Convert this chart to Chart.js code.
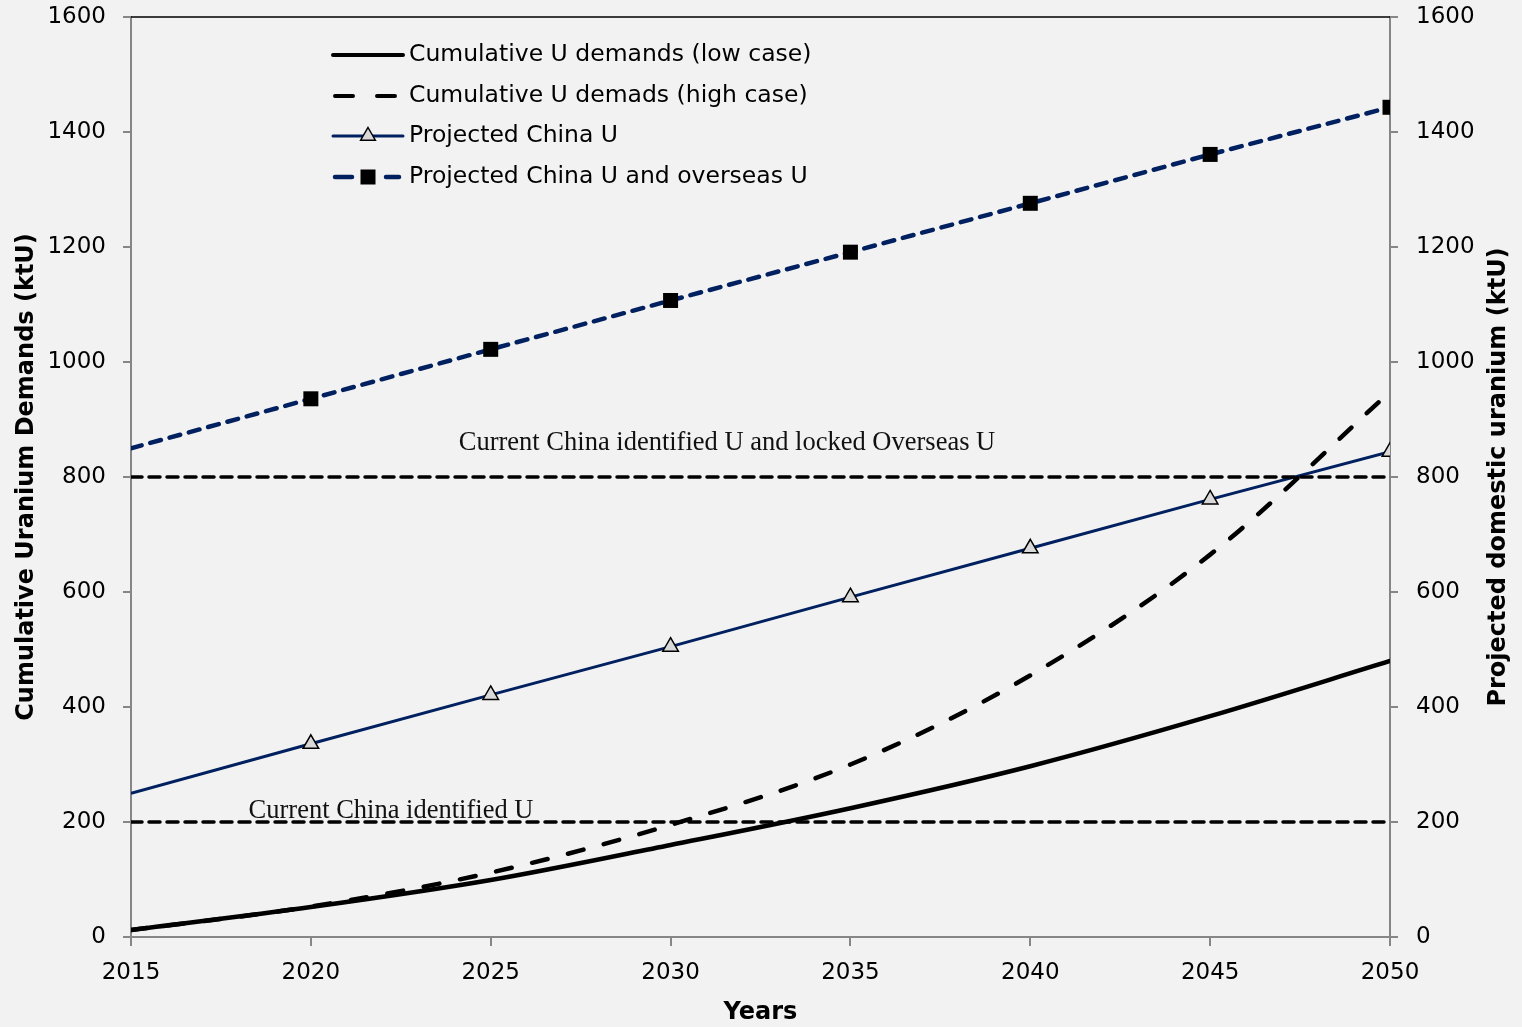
<!DOCTYPE html>
<html>
<head>
<meta charset="utf-8">
<script src="https://cdn.jsdelivr.net/npm/chart.js@4"></script>
<style>
  html, body { margin: 0; padding: 0; background: #f2f2f2; }
  #wrap { width: 1522px; height: 1027px; }
</style>
</head>
<body>
<div id="wrap"><canvas id="c" width="1522" height="1027"></canvas></div>
<script>
const years = [2015, 2020, 2025, 2030, 2035, 2040, 2045, 2050];
const lowCase = [12, 52, 99, 160, 224, 297, 384, 480];
const highCase = [12, 53, 112, 195, 300, 455, 665, 948];
const chinaU = [250, 336, 421, 505, 591, 676, 761, 844];
const chinaOverseasU = [850, 936, 1022, 1107, 1191, 1276, 1361, 1443];
const refYears = [2015, 2050];
const identifiedU = [200, 200];
const lockedU = [800, 800];
const legendLabels = [
  'Cumulative U demands (low case)',
  'Cumulative U demads (high case)',
  'Projected China U',
  'Projected China U and overseas U'
];
const annotationLabels = ['Current China identified U and locked Overseas U', 'Current China identified U'];
const yTicks = [0, 200, 400, 600, 800, 1000, 1200, 1400, 1600];
const xTicks = [2015, 2020, 2025, 2030, 2035, 2040, 2045, 2050];

const NAVY = '#002060';
const AXIS_GREY = '#868686';
const FONT = '"DejaVu Sans", Verdana, sans-serif';
const SERIF = '"Liberation Serif", "Times New Roman", serif';

const pts = (xs, ys) => xs.map((x, i) => ({ x, y: ys[i] }));
const markerRadius = (r) => years.map((y, i) => i === 0 ? 0 : r);

const overlay = {
  id: 'overlay',
  afterDatasetsDraw(chart) {
    const ctx = chart.ctx;
    const ys = chart.scales.y;
    const area = chart.chartArea;
    ctx.save();
    // top border
    ctx.strokeStyle = '#000';
    ctx.lineWidth = 1.5;
    ctx.beginPath();
    ctx.moveTo(area.left, area.top);
    ctx.lineTo(area.right, area.top);
    ctx.stroke();

    // annotations
    ctx.fillStyle = '#111';
    ctx.font = '26.5px ' + SERIF;
    ctx.textAlign = 'center';
    ctx.textBaseline = 'alphabetic';
    ctx.fillText(annotationLabels[0], 727, ys.getPixelForValue(800) - 27);
    ctx.fillText(annotationLabels[1], 391, ys.getPixelForValue(200) - 4);

    // legend
    const lx0 = 333, lx1 = 403, tx = 409;
    const rows = [55, 96, 136, 177];
    ctx.lineCap = 'round';
    ctx.strokeStyle = '#000'; ctx.lineWidth = 4; ctx.setLineDash([]);
    ctx.beginPath(); ctx.moveTo(lx0, rows[0]); ctx.lineTo(lx1, rows[0]); ctx.stroke();
    ctx.setLineDash([18, 24]);
    ctx.beginPath(); ctx.moveTo(lx0 + 2, rows[1]); ctx.lineTo(lx1, rows[1]); ctx.stroke();
    ctx.setLineDash([]); ctx.strokeStyle = NAVY; ctx.lineWidth = 3;
    ctx.beginPath(); ctx.moveTo(lx0, rows[2]); ctx.lineTo(lx1, rows[2]); ctx.stroke();
    ctx.lineCap = 'butt';
    ctx.fillStyle = '#d9d9d9'; ctx.strokeStyle = '#000'; ctx.lineWidth = 1.5;
    const tr = 8.5, cx = 368;
    ctx.beginPath();
    ctx.moveTo(cx, rows[2] - tr);
    ctx.lineTo(cx + tr * 0.866, rows[2] + tr * 0.5);
    ctx.lineTo(cx - tr * 0.866, rows[2] + tr * 0.5);
    ctx.closePath(); ctx.fill(); ctx.stroke();
    ctx.lineCap = 'round';
    ctx.strokeStyle = NAVY; ctx.lineWidth = 4.5;
    ctx.beginPath(); ctx.moveTo(lx0 + 2, rows[3]); ctx.lineTo(352, rows[3]); ctx.stroke();
    ctx.beginPath(); ctx.moveTo(386, rows[3]); ctx.lineTo(lx1 - 4, rows[3]); ctx.stroke();
    ctx.fillStyle = '#000';
    ctx.fillRect(cx - 7.5, rows[3] - 7.5, 15, 15);

    ctx.fillStyle = '#000';
    ctx.font = '23.5px ' + FONT;
    ctx.textAlign = 'left';
    ctx.textBaseline = 'middle';
    legendLabels.forEach((t, i) => ctx.fillText(t, tx, rows[i]));

    // right axis title (reads bottom to top)
    ctx.save();
    ctx.translate(1499, 477);
    ctx.rotate(-Math.PI / 2);
    ctx.font = 'bold 24px ' + FONT;
    ctx.textAlign = 'center';
    ctx.textBaseline = 'middle';
    ctx.fillText('Projected domestic uranium (ktU)', 0, 0);
    ctx.restore();
    ctx.restore();
  }
};

const noPad = (s) => { s.paddingTop = 0; s.paddingBottom = 0; };

new Chart(document.getElementById('c'), {
  type: 'line',
  data: {
    datasets: [
      {
        label: 'Current China identified U and locked Overseas U',
        data: pts(refYears, lockedU),
        borderColor: '#000', borderWidth: 3.5, borderDash: [11, 7], borderCapStyle: 'round',
        pointRadius: 0, fill: false
      },
      {
        label: 'Current China identified U',
        data: pts(refYears, identifiedU),
        borderColor: '#000', borderWidth: 3.5, borderDash: [11, 7], borderCapStyle: 'round',
        pointRadius: 0, fill: false
      },
      {
        label: legendLabels[0],
        data: pts(years, lowCase),
        borderColor: '#000', borderWidth: 4.5, cubicInterpolationMode: 'monotone',
        borderCapStyle: 'round', pointRadius: 0, fill: false
      },
      {
        label: legendLabels[1],
        data: pts(years, highCase),
        borderColor: '#000', borderWidth: 4.5, borderDash: [16, 21], borderCapStyle: 'round',
        cubicInterpolationMode: 'monotone', pointRadius: 0, fill: false
      },
      {
        label: legendLabels[2],
        data: pts(years, chinaU),
        borderColor: NAVY, borderWidth: 3, pointStyle: 'triangle',
        pointRadius: markerRadius(9), pointBackgroundColor: '#d9d9d9',
        pointBorderColor: '#000', pointBorderWidth: 1.5, fill: false
      },
      {
        label: legendLabels[3],
        data: pts(years, chinaOverseasU),
        borderColor: NAVY, borderWidth: 4.5, borderDash: [11, 9], borderCapStyle: 'round',
        pointStyle: 'rect', pointRadius: markerRadius(10.6), pointBackgroundColor: '#000',
        pointBorderColor: '#000', pointBorderWidth: 0, fill: false
      }
    ]
  },
  options: {
    responsive: false,
    animation: false,
    events: [],
    layout: { padding: { top: 17, left: 0, right: 0, bottom: 0 } },
    plugins: { legend: { display: false }, tooltip: { enabled: false } },
    scales: {
      x: {
        type: 'linear', min: 2015, max: 2050,
        afterBuildTicks: (s) => { s.ticks = xTicks.map(v => ({ value: v })); },
        afterFit: (s) => { s.height = 90; },
        border: { display: true, color: AXIS_GREY, width: 2 },
        grid: { drawOnChartArea: false, drawTicks: true, tickLength: 9, tickColor: AXIS_GREY, lineWidth: 2 },
        ticks: { color: '#000', font: { family: FONT, size: 23 }, padding: 13, maxRotation: 0, callback: v => String(v) },
        title: { display: true, text: 'Years', color: '#000', font: { family: FONT, size: 24, weight: 'bold' }, padding: { top: 0, bottom: 0 } }
      },
      y: {
        position: 'left', min: 0, max: 1600,
        afterBuildTicks: (s) => { s.ticks = yTicks.map(v => ({ value: v })); },
        afterFit: (s) => { s.width = 131; noPad(s); },
        border: { display: true, color: AXIS_GREY, width: 2 },
        grid: { drawOnChartArea: false, drawTicks: true, tickLength: 8, tickColor: AXIS_GREY, lineWidth: 2 },
        ticks: { color: '#000', font: { family: FONT, size: 23 }, padding: 17, callback: v => String(v) },
        title: { display: true, text: 'Cumulative Uranium Demands (ktU)', color: '#000', font: { family: FONT, size: 24, weight: 'bold' }, padding: { top: 12, bottom: 0 } }
      },
      y2: {
        position: 'right', min: 0, max: 1600,
        afterBuildTicks: (s) => { s.ticks = yTicks.map(v => ({ value: v })); },
        afterFit: (s) => { s.width = 132; noPad(s); },
        border: { display: true, color: AXIS_GREY, width: 2 },
        grid: { drawOnChartArea: false, drawTicks: true, tickLength: 8, tickColor: AXIS_GREY, lineWidth: 2 },
        ticks: { color: '#000', font: { family: FONT, size: 23 }, padding: 18, callback: v => String(v) }
      }
    }
  },
  plugins: [overlay]
});
</script>
</body>
</html>
